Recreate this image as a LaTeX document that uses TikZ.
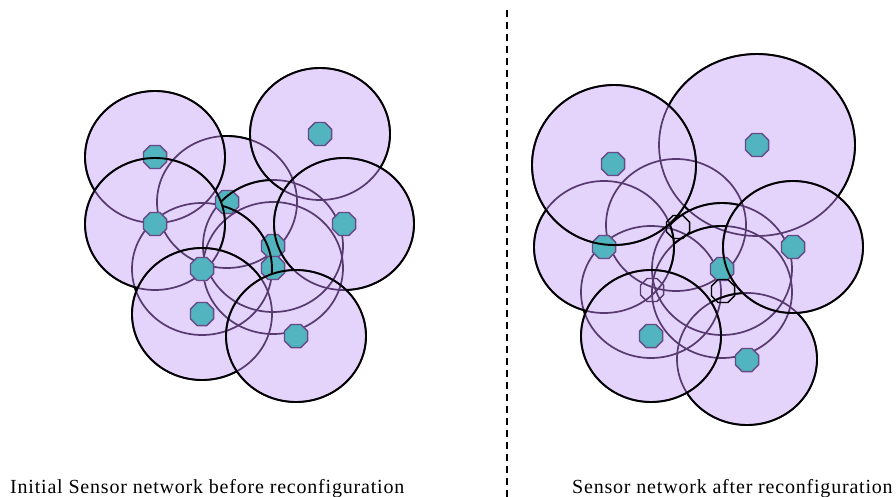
\documentclass[tikz,border=0pt]{standalone}
\usepackage{fontspec}
\setmainfont{Liberation Serif}
\newfontfamily\capfont[LetterSpace=4]{Liberation Serif}
\usetikzlibrary{shapes.geometric}

\definecolor{cellfill}{HTML}{E4D3FA}
\definecolor{hiddenline}{HTML}{573A70}
\definecolor{sensorfill}{HTML}{52B4BE}
\definecolor{sensoredge}{HTML}{674A88}

\makeatletter
% a coverage ring: name, centre x, centre y, x radius, y radius
\newcommand\setring[5]{\expandafter\def\csname ring@#1\endcsname{(#2,#3) ellipse [x radius=#4, y radius=#5]}}
\newcommand\ringof[1]{\csname ring@#1\endcsname}
% stroke the part of ring #1 lying outside every ring listed in #2
\newcommand\topedge[2]{%
  \begin{scope}[even odd rule]
    \@for\r@ng:=#2\do{\clip (-5,-5) rectangle (901,502) \ringof{\r@ng};}%
    \draw[rim] \ringof{#1};
  \end{scope}}
\makeatother

\tikzset{
  rim/.style={draw=black, line width=1.9pt},
  hiddenrim/.style={draw=hiddenline, line width=1.7pt},
  sensor/.style={regular polygon, regular polygon sides=8, minimum size=25pt,
    inner sep=0pt, fill=sensorfill, draw=sensoredge, line width=1.4pt},
  asleep/.style={regular polygon, regular polygon sides=8, minimum size=25pt,
    inner sep=0pt, draw=black, line width=1.4pt},
  caption/.style={anchor=base west, inner sep=0pt, font=\capfont\fontsize{20}{24}\selectfont},
  divider/.style={draw=black, line width=2pt, dash pattern=on 7pt off 5pt}
}

% initial network (listed bottom to top)
\setring{C}{227}{202}{70}{66}
\setring{H}{273}{268}{70}{66}
\setring{F}{273}{246}{70}{66}
\setring{G}{202}{269}{70}{66}
\setring{A}{155}{157}{70}{66}
\setring{D}{155}{224}{70}{66}
\setring{B}{320}{134}{70}{66}
\setring{E}{344}{224}{70}{66}
\setring{I}{202}{314}{70}{66}
\setring{J}{296}{336}{70}{66}
% reconfigured network (listed bottom to top)
\setring{C2}{676}{225}{70}{66}
\setring{G2}{651}{292}{70}{66}
\setring{B2}{757}{145}{98}{91}
\setring{F2}{722}{269}{70}{66}
\setring{H2}{722}{292}{70}{66}
\setring{D2}{604}{247}{70}{66}
\setring{J2}{747}{359}{70}{66}
\setring{E2}{793}{247}{70}{66}
\setring{A2}{614}{165}{82}{80}
\setring{I2}{651}{336}{70}{66}

\begin{document}
\begin{tikzpicture}[x=1pt, y=-1pt]
\useasboundingbox (0,0) rectangle (896,497);

% coverage areas
\fill[cellfill] \ringof{C} \ringof{H} \ringof{F} \ringof{G} \ringof{A}
  \ringof{D} \ringof{B} \ringof{E} \ringof{I} \ringof{J};
\fill[cellfill] \ringof{C2} \ringof{G2} \ringof{B2} \ringof{F2} \ringof{H2}
  \ringof{D2} \ringof{J2} \ringof{E2} \ringof{A2} \ringof{I2};

% rims seen through the areas above them
\foreach \r in {C,H,F,G,A,D,B,E,I,J,C2,G2,B2,F2,H2,D2,J2,E2,A2,I2}
  \draw[hiddenrim] \ringof{\r};

% sensors, initial network
\node[sensor] (sA) at (155,157) {};
\node[sensor] (sB) at (320,134) {};
\node[sensor] (sC) at (227,202) {};
\node[sensor] (sD) at (155,224) {};
\node[sensor] (sE) at (344,224) {};
\node[sensor] (sF) at (273,246) {};
\node[sensor] (sG) at (202,269) {};
\node[sensor] (sH) at (273,268) {};
\node[sensor] (sI) at (202,314) {};
\node[sensor] (sJ) at (296,336) {};

% sensors, reconfigured network
\node[sensor] (tA) at (613,164) {};
\node[sensor] (tB) at (757,145) {};
\node[sensor] (tD) at (604,247) {};
\node[sensor] (tE) at (793,247) {};
\node[sensor] (tF) at (722,269) {};
\node[sensor] (tI) at (651,336) {};
\node[sensor] (tJ) at (747,360) {};
\node[asleep] (tC) at (678,227) {};
\node[asleep, draw=hiddenline] (tG) at (652,290) {};
\node[asleep] (tH) at (723,291) {};

% uncovered parts of each rim
\topedge{C}{H,F,G,A,D,B,E,I,J}
\topedge{H}{F,G,A,D,B,E,I,J}
\topedge{F}{G,A,D,B,E,I,J}
\topedge{G}{A,D,B,E,I,J}
\topedge{A}{D,B,E,I,J}
\topedge{D}{B,E,I,J}
\topedge{B}{E,I,J}
\topedge{E}{I,J}
\topedge{I}{J}
\draw[rim] \ringof{J};

\topedge{C2}{G2,B2,F2,H2,D2,J2,E2,A2,I2}
\topedge{G2}{B2,F2,H2,D2,J2,E2,A2,I2}
\topedge{B2}{F2,H2,D2,J2,E2,A2,I2}
\topedge{F2}{H2,D2,J2,E2,A2,I2}
\topedge{H2}{D2,J2,E2,A2,I2}
\topedge{D2}{J2,E2,A2,I2}
\topedge{J2}{E2,A2,I2}
\topedge{E2}{A2,I2}
\topedge{A2}{I2}
\draw[rim] \ringof{I2};

% divider and captions
\coordinate (divtop) at (507,10);
\coordinate (divbot) at (507,497);
\draw[divider] (divtop) -- (divbot);
\node[caption] (capL) at (10,493) {Initial Sensor network before reconfiguration};
\node[caption] (capR) at (572,493) {Sensor network after reconfiguration};
\end{tikzpicture}
\end{document}
